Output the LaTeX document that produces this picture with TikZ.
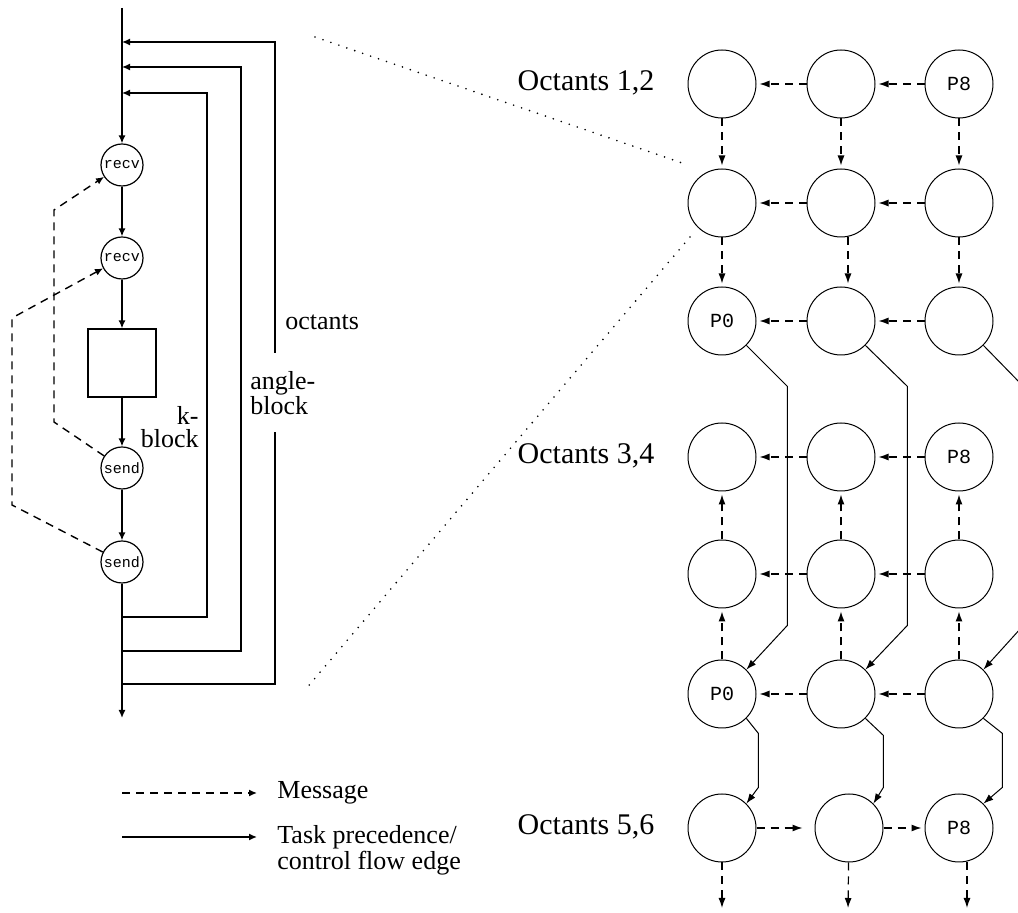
\documentclass[tikz,border=0pt]{standalone}
\usepackage{fontspec}
\setmainfont{Liberation Serif}
\newfontfamily\monofont{Liberation Mono}
\usetikzlibrary{arrows.meta, positioning, calc}

\begin{document}
\begin{tikzpicture}[
        x=0.5pt, y=-0.5pt,
        proc/.style={circle, draw=black, line width=0.6pt, minimum size=21pt, inner sep=0pt, font=\monofont\fontsize{7.5}{8}\selectfont},
        kbox/.style={rectangle, draw=black, line width=0.6pt, minimum size=34pt},
        cell/.style={circle, draw=black, line width=0.5pt, minimum size=34pt, inner sep=0pt, font=\monofont\fontsize{10}{10}\selectfont},
        flow/.style={-{Latex[length=4pt, width=3.5pt]}, line width=0.7pt},
        gflow/.style={-{Latex[length=5pt, width=3.5pt]}, line width=0.5pt},
        msg/.style={-{Latex[length=4pt, width=3.5pt]}, line width=0.7pt, dash pattern=on 4pt off 3pt},
        gmsg/.style={-{Latex[length=5pt, width=3.5pt]}, line width=0.6pt, dash pattern=on 4pt off 3pt, shorten >=1.5pt},
        zoomline/.style={line width=0.9pt, line cap=round, dash pattern=on 0pt off 4.2pt},
        lbl/.style={font=\fontsize{13}{11.5}\selectfont, inner sep=0pt},
        oct/.style={font=\fontsize{15}{15}\selectfont, inner sep=0pt}
    ]
        \useasboundingbox (0,0) rectangle (1018,913);
        \clip (0,0) rectangle (1018,913);

        % left: the task graph of one k-block
        \coordinate (top) at (122,8);
        \coordinate (bot) at (122,718);
        \node[proc] (r1) at (122,165) {recv};
        \node[proc] (r2) at (122,258) {recv};
        \node[kbox] (kb) at (122,363) {};
        \node[proc] (s1) at (122,468) {send};
        \node[proc] (s2) at (122,562) {send};

        \draw[flow] (top) -- (r1);
        \draw[flow] (r1) -- (r2);
        \draw[flow] (r2) -- (kb);
        \draw[flow] (kb) -- (s1);
        \draw[flow] (s1) -- (s2);
        \draw[flow] (s2) -- (bot);

        % loops back to the top
        \coordinate (in1) at (122,93);
        \coordinate (in2) at (122,67);
        \coordinate (in3) at (122,42);
        \coordinate (out1) at (122,617);
        \coordinate (out2) at (122,651);
        \coordinate (out3) at (122,684);
        \coordinate (gaplo) at (275,432);
        \coordinate (gaphi) at (275,353);
        \draw[flow] (out1) -- ++(85,0) |- (in1);
        \draw[flow] (out2) -- ++(119,0) |- (in2);
        \draw[line width=0.7pt] (out3) -- ++(153,0) -- (gaplo);
        \draw[flow] (gaphi) |- (in3);

        \node[lbl, anchor=west] (octlbl) at (285,322) {octants};
        \node[lbl, anchor=west, align=left] (anglelbl) at (250,393) {angle-\\block};
        \node[lbl, anchor=east, align=right] (klbl) at (199,427) {k-\\block};

        % messages
        \coordinate (m1a) at (54,422);
        \coordinate (m1b) at (54,210);
        \coordinate (m2a) at (12,505);
        \coordinate (m2b) at (12,318);
        \draw[msg] (s1) -- (m1a) -- (m1b) -- (r1);
        \draw[msg] (s2) -- (m2a) -- (m2b) -- (r2);

        % right: the processor grid
        \node[cell] (c11) at (722,84) {};
        \node[cell] (c12) at (841,84) {};
        \node[cell] (c13) at (959,84) {P8};
        \node[cell] (c21) at (722,203) {};
        \node[cell] (c22) at (841,203) {};
        \node[cell] (c23) at (959,203) {};
        \node[cell] (c31) at (722,321) {P0};
        \node[cell] (c32) at (841,321) {};
        \node[cell] (c33) at (959,321) {};
        \node[cell] (c41) at (722,457) {};
        \node[cell] (c42) at (841,457) {};
        \node[cell] (c43) at (959,457) {P8};
        \node[cell] (c51) at (722,574) {};
        \node[cell] (c52) at (841,574) {};
        \node[cell] (c53) at (959,574) {};
        \node[cell] (c61) at (722,694) {P0};
        \node[cell] (c62) at (841,694) {};
        \node[cell] (c63) at (959,694) {};
        \node[cell] (c71) at (722,828) {};
        \node[cell] (c72) at (849,828) {};
        \node[cell] (c73) at (959,828) {P8};

        \node[oct] (oct12) at (586,83) {Octants 1,2};
        \node[oct] (oct34) at (586,456) {Octants 3,4};
        \node[oct] (oct56) at (586,827) {Octants 5,6};

        % octants 1,2
        \draw[gmsg] (c13) -- (c12);
        \draw[gmsg] (c12) -- (c11);
        \draw[gmsg] (c23) -- (c22);
        \draw[gmsg] (c22) -- (c21);
        \draw[gmsg] (c33) -- (c32);
        \draw[gmsg] (c32) -- (c31);
        \draw[gmsg] (c11) -- (c21);
        \draw[gmsg] (c12) -- (c22);
        \draw[gmsg] (c13) -- (c23);
        \draw[gmsg] (c21) -- (c31);
        \draw[gmsg] ([xshift=3.5pt]c22.south) -- ([xshift=3.5pt]c32.north);
        \draw[gmsg] (c23) -- (c33);

        % octants 3,4
        \draw[gmsg] (c43) -- (c42);
        \draw[gmsg] (c42) -- (c41);
        \draw[gmsg] (c53) -- (c52);
        \draw[gmsg] (c52) -- (c51);
        \draw[gmsg] (c63) -- (c62);
        \draw[gmsg] (c62) -- (c61);
        \draw[gmsg] (c51) -- (c41);
        \draw[gmsg] (c52) -- (c42);
        \draw[gmsg] (c53) -- (c43);
        \draw[gmsg] (c61) -- (c51);
        \draw[gmsg] (c62) -- (c52);
        \draw[gmsg] (c63) -- (c53);

        % octants 5,6
        \coordinate (e1) at (722,911);
        \coordinate (e2) at (848,911);
        \coordinate (e3) at (967,911);
        \draw[gmsg, shorten >=6pt] (c71) -- (c72);
        \draw[gmsg] (c72) -- (c73);
        \draw[gmsg] (c71) -- (e1);
        \draw[gmsg] (c72) -- (e2);
        \draw[gmsg] ([xshift=4pt]c73.south) -- (e3);

        % control flow between octant pairs
        \draw[gflow] (c31.south east) -- ++(41,41) -- ++(0,239) -- (c61.north east);
        \draw[gflow] (c32.south east) -- ++(42,41) -- ++(0,239) -- (c62.north east);
        \draw[gflow] (c33.south east) -- ++(40,41) -- ++(0,239) -- (c63.north east);
        \draw[gflow] (c61.south east) -- ++(12,15) -- ++(0,54) -- (c71.north east);
        \draw[gflow] (c62.south east) -- ++(18,17) -- ++(0,52) -- (c72.north east);
        \draw[gflow] (c63.south east) -- ++(19,15) -- ++(0,54) -- (c73.north east);

        % zoom lines
        \coordinate (za) at (315,37);
        \coordinate (zb) at (688,165);
        \coordinate (zc) at (690,237);
        \coordinate (zd) at (305,690);
        \draw[zoomline] (za) -- (zb);
        \draw[zoomline] (zc) -- (zd);

        % legend
        \node[lbl, anchor=west] (msgtxt) at (277,793) {Message};
        \node[lbl, anchor=west, align=left, font=\fontsize{13}{13}\selectfont] (flowtxt) at (277,850) {Task precedence/\\control flow edge};
        \coordinate (lg1) at (122,793);
        \coordinate (lg2a) at (122,837);
        \coordinate (lg2b) at (257,837);
        \draw[msg, shorten >=10pt] (lg1) -- (msgtxt);
        \draw[flow] (lg2a) -- (lg2b);
    \end{tikzpicture}
\end{document}
